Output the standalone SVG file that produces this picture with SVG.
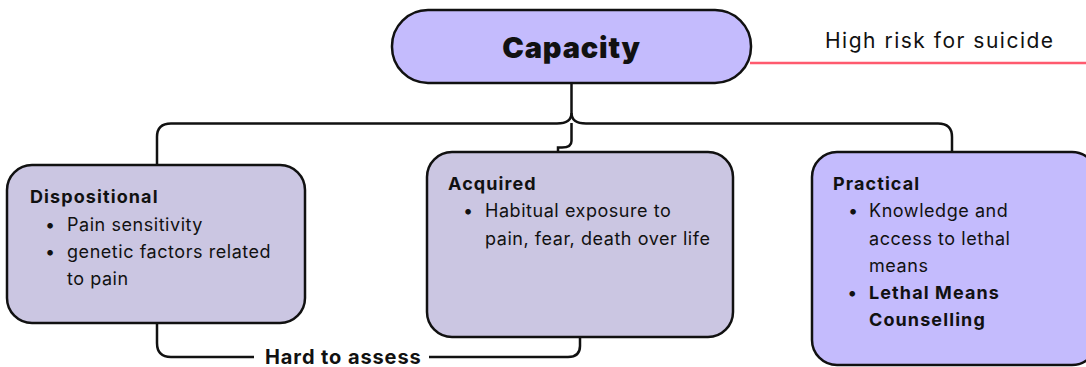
<svg xmlns="http://www.w3.org/2000/svg" width="1086" height="367" viewBox="0 0 1086 367">
<style>
.box{stroke:#111;stroke-width:2.5}
.soft{fill:#cbc6e2}
.vivid{fill:#c4bbfd}
.con{fill:none;stroke:#111;stroke-width:2.5}
text{font-family:Inter,"Liberation Sans",sans-serif;fill:#111}
.t{font-size:18px;letter-spacing:0.55px}
.b{font-weight:700;letter-spacing:1.1px}
</style>
<rect width="1086" height="367" fill="#fff"/>
<g id="connectors">
<path class="con" d="M571.5,83 V113 Q571.5,123.5 557,123.5 H171 Q157,123.5 157,137 V165"/>
<path class="con" d="M571.5,113 Q571.5,123.5 586,123.5 H938 Q952,123.5 952,137 V152"/>
<path class="con" d="M571.5,123 V141 Q571.5,147.5 562,147.5 H558 V152"/>
<path class="con" d="M157,323 V343 Q157,357 171,357 H254"/>
<path class="con" d="M429,357 H568 Q580,357 580,346 V337"/>
<line x1="750" y1="63" x2="1086" y2="63" stroke="#ff5a6e" stroke-width="2.5"/>
</g>
<g id="capacity">
<rect class="box vivid" x="392" y="10" width="359" height="73" rx="36"/>
<text x="571.5" y="58" text-anchor="middle" font-size="29" font-weight="900" letter-spacing="0.8">Capacity</text>
</g>
<g id="risk-label">
<text x="825" y="48" font-size="21" letter-spacing="1.5">High risk for suicide</text>
</g>
<g id="dispositional">
<rect class="box soft" x="7" y="165" width="298" height="158" rx="25"/>
<text class="t b" x="30" y="203">Dispositional</text>
<text class="t" x="45" y="231">•</text>
<text class="t" x="67" y="231">Pain sensitivity</text>
<text class="t" x="45" y="258">•</text>
<text class="t" x="67" y="258">genetic factors related</text>
<text class="t" x="67" y="285">to pain</text>
</g>
<g id="acquired">
<rect class="box soft" x="427" y="152" width="306" height="185" rx="25"/>
<text class="t b" x="448" y="190">Acquired</text>
<text class="t" x="463" y="217">•</text>
<text class="t" x="485" y="217">Habitual exposure to</text>
<text class="t" x="485" y="245">pain, fear, death over life</text>
</g>
<g id="practical">
<rect class="box vivid" x="812" y="152" width="285" height="213" rx="25"/>
<text class="t b" x="833" y="190">Practical</text>
<text class="t" x="848" y="217">•</text>
<text class="t" x="869" y="217">Knowledge and</text>
<text class="t" x="869" y="245">access to lethal</text>
<text class="t" x="869" y="272">means</text>
<text class="t b" x="848" y="299">•</text>
<text class="t b" x="869" y="299">Lethal Means</text>
<text class="t b" x="869" y="326">Counselling</text>
</g>
<g id="hard-label">
<text x="265" y="364" font-size="20" font-weight="700" letter-spacing="0.9">Hard to assess</text>
</g>
</svg>
